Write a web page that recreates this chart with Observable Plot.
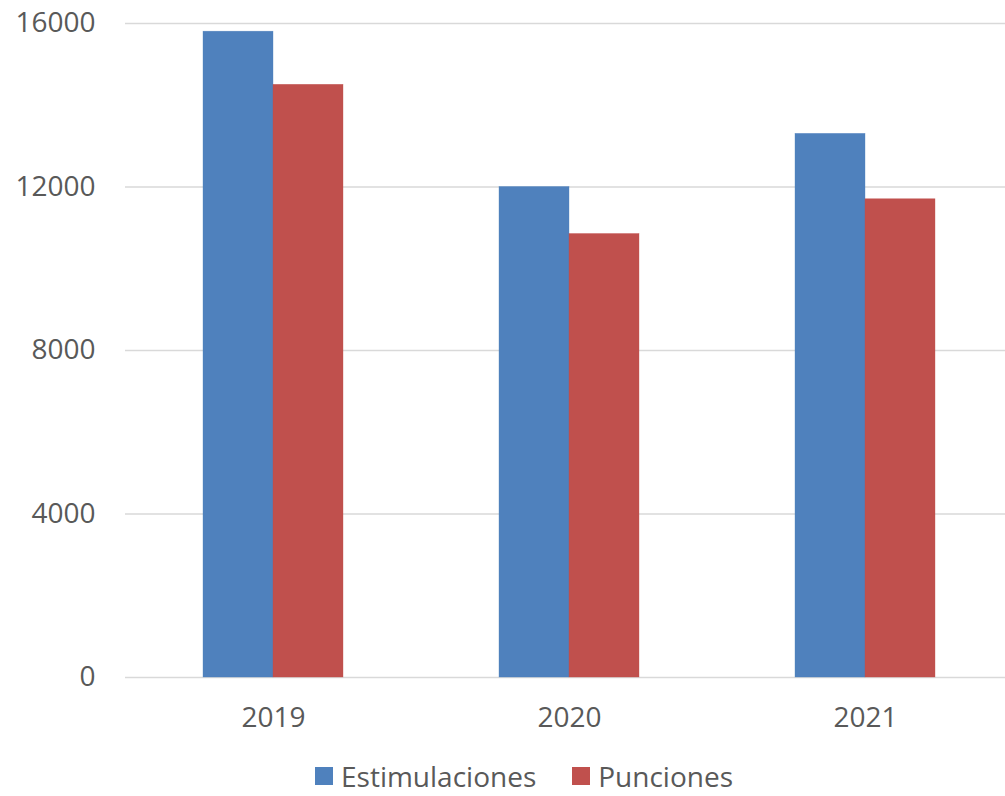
<!DOCTYPE html>
<html>
<head>
<meta charset="utf-8">
<script src="https://cdn.jsdelivr.net/npm/d3@7"></script>
<script src="https://cdn.jsdelivr.net/npm/@observablehq/plot@0.6"></script>
<style>
  html, body { margin: 0; padding: 0; background: #fff; overflow: hidden; }
  #chart svg { display: block; max-width: none; }
  #legend { display: flex; justify-content: center; align-items: center; height: 28px; margin-top: 12px;
    line-height: 28px; font-family: "Open Sans", sans-serif; font-size: 28px; color: #595959; padding-left: 43px; }
  .item { display: flex; align-items: center; margin: 0 18px; }
  .sw { width: 18px; height: 18px; margin-right: 8px; }
</style>
</head>
<body>
<div id="chart"></div>
<div id="legend"></div>
<script>
const years = ["2019", "2020", "2021"];
const series = ["Estimulaciones", "Punciones"];
const estimulaciones = [15800, 12000, 13300];
const punciones = [14500, 10850, 11700];
const yTicks = [0, 4000, 8000, 12000, 16000];
const colors = ["#4F81BD", "#C0504D"];

const data = [];
years.forEach((yr, i) => {
  data.push({year: yr, series: series[0], value: estimulaciones[i]});
  data.push({year: yr, series: series[1], value: punciones[i]});
});

const chart = Plot.plot({
  width: 1005,
  height: 750,
  marginLeft: 124,
  marginRight: -8,
  marginTop: 23,
  marginBottom: 73,
  style: {fontFamily: "Open Sans, sans-serif", fontSize: "28px", color: "#595959", background: "#fff"},
  fx: {domain: years, paddingInner: 0, paddingOuter: 0, label: null, tickSize: 0, tickPadding: 30},
  x: {domain: series, paddingInner: 0, paddingOuter: 1.1, axis: null},
  y: {domain: [0, 16000], ticks: yTicks, tickSize: 0, tickPadding: 30, label: null, tickFormat: d => String(d)},
  color: {domain: series, range: colors},
  marks: [
    Plot.ruleY(yTicks, {stroke: "#d9d9d9", strokeWidth: 1.5}),
    Plot.barY(data, {fx: "year", x: "series", y: "value", fill: "series", stroke: "series", strokeOpacity: 0.7, strokeWidth: 0.5})
  ]
});
document.getElementById("chart").appendChild(chart);

const legend = document.getElementById("legend");
series.forEach((s, i) => {
  const item = document.createElement("div");
  item.className = "item";
  const sw = document.createElement("div");
  sw.className = "sw";
  sw.style.background = colors[i];
  const t = document.createElement("span");
  t.textContent = s;
  item.appendChild(sw);
  item.appendChild(t);
  legend.appendChild(item);
});
</script>
</body>
</html>
